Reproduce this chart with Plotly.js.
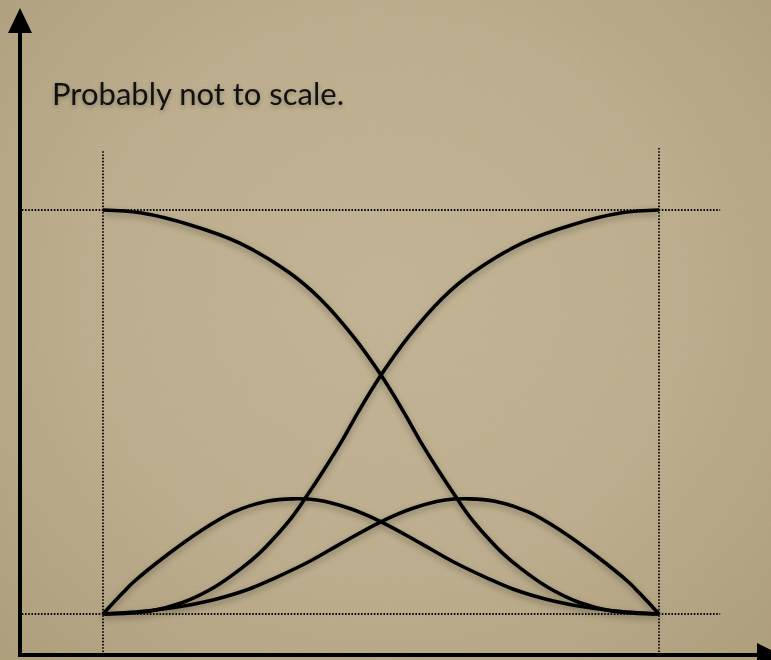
<!DOCTYPE html>
<html>
<head>
<meta charset="utf-8">
<script src="https://cdn.plot.ly/plotly-3.0.1.min.js"></script>
<style>
  html, body { margin: 0; padding: 0; }
  body {
    width: 771px; height: 660px; overflow: hidden;
    background:
      url("data:image/svg+xml;utf8,<svg xmlns='http://www.w3.org/2000/svg' width='771' height='660'><filter id='n'><feTurbulence type='fractalNoise' baseFrequency='0.9' numOctaves='3' seed='4'/><feColorMatrix type='saturate' values='0'/></filter><rect width='100%' height='100%' filter='url(%23n)' opacity='0.10'/></svg>"),
      radial-gradient(ellipse at 50% 45%, #c2b492 0%, #bcad8b 55%, #ad9d79 100%);
  }
  #chart { width: 771px; height: 660px; }
  #chart .scatterlayer { filter: drop-shadow(0px 3px 3px rgba(0,0,0,0.3)); }
  #chart .annotation-text { filter: drop-shadow(0px 2px 2px rgba(0,0,0,0.25)); }
</style>
</head>
<body>
<div id="chart"></div>
<script>
// Four blending curves over a normalised parameter t in [0, 1].
// falling: starts at 1, ends at 0
const fallingT = [0, 0.067, 0.157, 0.246, 0.336, 0.390, 0.450, 0.502, 0.540, 0.570, 0.601, 0.637, 0.660, 0.691, 0.719, 0.750, 0.799, 0.858, 0.917, 1];
const fallingV = [1, 0.993, 0.963, 0.918, 0.844, 0.781, 0.687, 0.587, 0.502, 0.429, 0.360, 0.285, 0.240, 0.190, 0.150, 0.114, 0.067, 0.028, 0.007, 0];

// rising: starts at 0, ends at 1
const risingT = [0, 0.083, 0.142, 0.201, 0.250, 0.281, 0.309, 0.340, 0.363, 0.399, 0.430, 0.460, 0.498, 0.550, 0.610, 0.664, 0.754, 0.843, 0.933, 1];
const risingV = [0, 0.007, 0.028, 0.067, 0.114, 0.150, 0.190, 0.240, 0.285, 0.360, 0.429, 0.502, 0.587, 0.687, 0.781, 0.844, 0.918, 0.963, 0.993, 1];

// early bump: peaks a third of the way along
const earlyT = [0, 0.036, 0.054, 0.115, 0.175, 0.234, 0.295, 0.342, 0.385, 0.444, 0.502, 0.570, 0.629, 0.691, 0.737, 0.799, 0.858, 0.917, 1];
const earlyV = [0, 0.053, 0.078, 0.146, 0.205, 0.252, 0.279, 0.285, 0.282, 0.261, 0.227, 0.176, 0.130, 0.089, 0.062, 0.036, 0.019, 0.008, 0];

// late bump: peaks two thirds of the way along
const lateT = [0, 0.083, 0.142, 0.201, 0.263, 0.309, 0.371, 0.430, 0.498, 0.556, 0.615, 0.658, 0.705, 0.766, 0.825, 0.885, 0.946, 0.964, 1];
const lateV = [0, 0.008, 0.019, 0.036, 0.062, 0.089, 0.130, 0.176, 0.227, 0.261, 0.282, 0.285, 0.279, 0.252, 0.205, 0.146, 0.078, 0.053, 0];

const note = "Probably not to scale.";

const W = 771, H = 660;
// helpers for decorative shapes placed in page pixels
const px = x => x / W;
const py = y => 1 - y / H;

const curve = (t, v) => ({
  x: t, y: v, type: 'scatter', mode: 'lines',
  line: { color: '#000', width: 3.6, shape: 'spline', smoothing: 1 },
  hoverinfo: 'skip'
});

const data = [
  curve(fallingT, fallingV),
  curve(risingT, risingV),
  curve(earlyT, earlyV),
  curve(lateT, lateV)
];

const dotted = { color: '#0a0a0a', width: 1.8, dash: '1.6px,1.6px' };
const guide = (x0, y0, x1, y1) => ({ type: 'line', xref: 'x', yref: 'y', x0, y0, x1, y1, line: dotted, layer: 'below' });

const shapes = [
  // guides at the ends of the parameter range and at 0 / 1
  guide(0, -0.094, 0, 1.149),
  guide(1, -0.094, 1, 1.156),
  guide(-0.146, 1, 1.11, 1),
  guide(-0.146, 0, 1.11, 0),
  // vertical axis with arrow
  { type: 'line', xref: 'paper', yref: 'paper', x0: px(20), y0: py(657), x1: px(20), y1: py(30),
    line: { color: '#000', width: 4 } },
  { type: 'path', xref: 'paper', yref: 'paper',
    path: `M ${px(20)} ${py(8)} L ${px(8)} ${py(33)} L ${px(32)} ${py(33)} Z`,
    fillcolor: '#000', line: { width: 0 } },
  // horizontal axis with arrow
  { type: 'line', xref: 'paper', yref: 'paper', x0: px(18), y0: py(655), x1: px(760), y1: py(655),
    line: { color: '#000', width: 4 } },
  { type: 'path', xref: 'paper', yref: 'paper',
    path: `M ${px(781)} ${py(655)} L ${px(757)} ${py(643)} L ${px(757)} ${py(667)} Z`,
    fillcolor: '#000', line: { width: 0 } }
];

const layout = {
  width: W, height: H,
  margin: { l: 0, r: 0, t: 0, b: 0, pad: 0 },
  paper_bgcolor: 'rgba(0,0,0,0)',
  plot_bgcolor: 'rgba(0,0,0,0)',
  showlegend: false,
  xaxis: { range: [-103 / 556, (W - 103) / 556], visible: false, fixedrange: true },
  yaxis: { range: [(614 - H) / 404, 614 / 404], visible: false, fixedrange: true },
  shapes: shapes,
  annotations: [{
    text: note, xref: 'paper', yref: 'paper',
    x: px(50), y: py(93), xanchor: 'left', yanchor: 'middle',
    showarrow: false,
    font: { family: 'Lato, "Open Sans", sans-serif', size: 31, color: '#111' }
  }]
};

Plotly.newPlot('chart', data, layout, { staticPlot: true, displayModeBar: false });
</script>
</body>
</html>
